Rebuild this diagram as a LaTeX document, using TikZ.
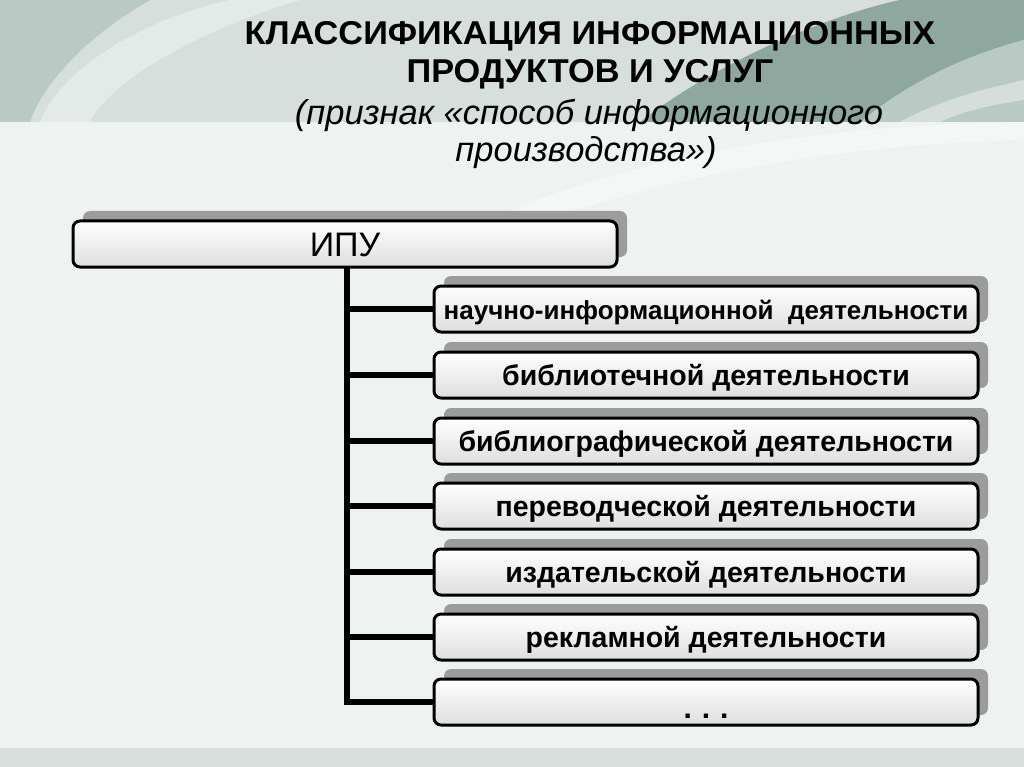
\documentclass[tikz,border=0pt]{standalone}
\usepackage{fontspec}
\setmainfont{Liberation Sans}
\newfontfamily\titlefont[FakeStretch=1.04]{Liberation Sans}
\usetikzlibrary{shadows}
\definecolor{bgmain}{HTML}{EEF3F1}
\definecolor{bgtop}{HTML}{D6DFDB}
\definecolor{swoosh}{HTML}{8EA79F}
\definecolor{swooshlight}{HTML}{B9C9C3}
\definecolor{shadowgrey}{HTML}{9C9C9C}
\begin{document}
\begin{tikzpicture}[x=1pt,y=-1pt,
  boxbase/.style={draw=black, line width=3pt, rounded corners=7pt,
    top color=white, bottom color=black!13, minimum height=46pt,
    minimum width=544pt, inner sep=0pt, text depth=0pt,
    drop shadow={shadow xshift=10pt, shadow yshift=10pt, fill=shadowgrey, opacity=1}},
  child/.style={boxbase, text height=21pt, font=\bfseries\fontsize{28.5}{32}\selectfont},
  rootbox/.style={boxbase, text height=24pt, font=\fontsize{34}{38}\selectfont},
  conn/.style={line width=6pt, draw=black},
  ttl/.style={anchor=base, inner sep=0pt, font=\titlefont\bfseries\fontsize{33}{38}\selectfont},
  sub/.style={anchor=base, inner sep=0pt, font=\itshape\fontsize{34.5}{38}\selectfont}]
\useasboundingbox (0,0) rectangle (1024,767);
% background
\fill[bgmain] (0,0) rectangle (1024,767);
\fill[bgtop] (0,0) rectangle (1024,122);
\fill[swooshlight] (0,0) -- (150,0) .. controls (80,40) and (40,90) .. (30,122) -- (0,122) -- cycle;
\fill[white, opacity=0.35] (40,122) .. controls (60,70) and (140,20) .. (230,0) -- (300,0) .. controls (200,30) and (110,80) .. (90,122) -- cycle;
\fill[swoosh] (640,122) .. controls (720,60) and (830,15) .. (900,0) -- (1024,0) -- (1024,40) .. controls (950,60) and (900,90) .. (860,122) -- cycle;
\fill[swooshlight] (860,122) .. controls (900,90) and (950,60) .. (1024,40) -- (1024,122) -- cycle;
\fill[white, opacity=0.4] (900,122) .. controls (940,100) and (980,90) .. (1024,80) -- (1024,100) .. controls (990,105) and (960,112) .. (940,122) -- cycle;
\fill[white, opacity=0.35] (420,250) .. controls (600,160) and (800,125) .. (1024,122) -- (1024,140) .. controls (820,145) and (640,180) .. (460,250) -- cycle;
\fill[bgtop] (0,748) rectangle (1024,767);
% title
\node[ttl] (t1) at (590,45) {КЛАССИФИКАЦИЯ ИНФОРМАЦИОННЫХ};
\node[ttl] (t2) at (590,83) {ПРОДУКТОВ И УСЛУГ};
\node[sub] (t3) at (589,125) {(признак «способ информационного};
\node[sub] (t4) at (586,162) {производства»)};
% boxes
\node[rootbox] (ipu) at (345,244) {ИПУ};
\node[child, font=\bfseries\fontsize{26}{30}\selectfont] (b1) at (706,309) {научно-информационной\ \ деятельности};
\node[child] (b2) at (706,375) {библиотечной деятельности};
\node[child] (b3) at (706,441) {библиографической деятельности};
\node[child] (b4) at (706,506) {переводческой деятельности};
\node[child] (b5) at (706,572) {издательской деятельности};
\node[child] (b6) at (706,637) {рекламной деятельности};
\node[child] (b7) at (706,702) {};
\node[anchor=base, inner sep=0pt, font=\bfseries\fontsize{30}{32}\selectfont] (dots) at (706,718) {.\,\,.\,\,.};
% connectors
\coordinate (trunk) at (347,266);
\draw[conn] (trunk) |- (b7.west);
\foreach \b in {b1,b2,b3,b4,b5,b6}
  \draw[conn] (trunk |- \b.west) -- (\b.west);
\end{tikzpicture}
\end{document}
